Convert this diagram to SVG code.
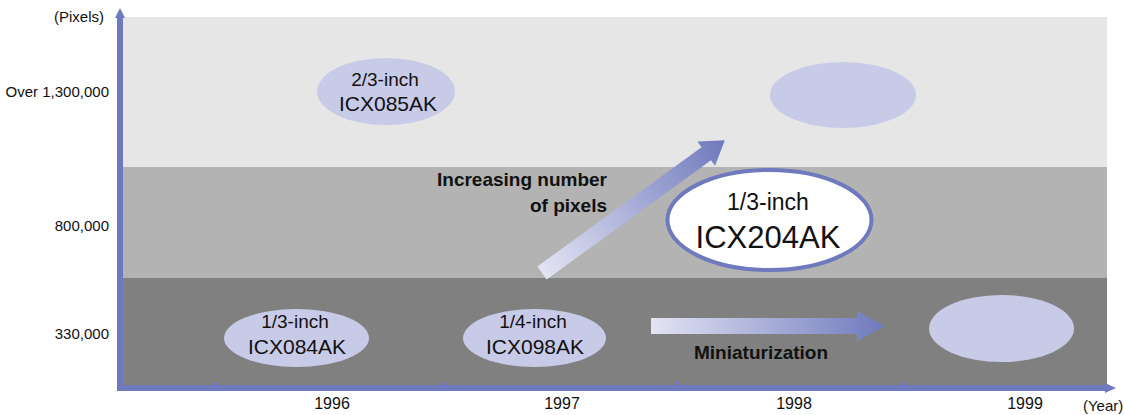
<svg xmlns="http://www.w3.org/2000/svg" width="1124" height="415" viewBox="0 0 1124 415">
  <defs>
    <linearGradient id="gArrow" x1="0" y1="0" x2="1" y2="0">
      <stop offset="0" stop-color="#e2e4f3"/>
      <stop offset="1" stop-color="#6f79bd"/>
    </linearGradient>
    <style>
      text { font-family: "Liberation Sans", Arial, sans-serif; fill: #111; }
      .ax { font-size: 15px; }
      .yr { font-size: 16px; text-anchor: middle; }
      .l1 { font-size: 19px; text-anchor: middle; }
      .l2 { font-size: 21px; text-anchor: middle; }
      .bold { font-size: 19px; font-weight: bold; }
      .chip { fill: #c8cbe8; }
      .axis { fill: #6f79bd; }
    </style>
  </defs>
  <rect width="1124" height="415" fill="#ffffff"/>
  <!-- bands -->
  <g id="bands">
    <rect x="123" y="17" width="984" height="150" fill="#e6e6e6"/>
    <rect x="123" y="167" width="984" height="111" fill="#b3b3b3"/>
    <rect x="123" y="278" width="984" height="107" fill="#808080"/>
  </g>
  <!-- axes -->
  <g id="axes">
    <rect class="axis" x="117" y="17" width="6" height="374"/>
    <polygon class="axis" points="115,18 120,8 125,18"/>
    <rect class="axis" x="117" y="385" width="990" height="6"/>
    <polygon class="axis" points="1105,383 1116,388 1105,393"/>
    <rect class="axis" x="213" y="382" width="4" height="4"/>
    <rect class="axis" x="441" y="382" width="4" height="4"/>
    <rect class="axis" x="675" y="382" width="4" height="4"/>
    <rect class="axis" x="902" y="382" width="4" height="4"/>
    <text class="ax" x="104" y="22" text-anchor="end">(Pixels)</text>
    <text class="ax" x="109" y="97" text-anchor="end">Over 1,300,000</text>
    <text class="ax" x="109" y="231" text-anchor="end">800,000</text>
    <text class="ax" x="109" y="339" text-anchor="end">330,000</text>
    <text class="yr" x="332" y="409">1996</text>
    <text class="yr" x="562" y="409">1997</text>
    <text class="yr" x="794" y="409">1998</text>
    <text class="yr" x="1025" y="409">1999</text>
    <text class="ax" x="1083" y="411">(Year)</text>
  </g>
  <!-- connectors -->
  <g id="connectors">
    <g id="arrow-pixels">
      <path transform="translate(542,273) rotate(-36)" d="M0,-8 L203,-8 L203,-15 L226,0 L203,15 L203,8 L0,8 Z" fill="url(#gArrow)"/>
      <text class="bold" x="607" y="186" text-anchor="end">Increasing number</text>
      <text class="bold" x="607" y="212" text-anchor="end">of pixels</text>
    </g>
    <g id="arrow-mini">
      <path d="M651,318 L857,318 L857,311 L885,326 L857,341 L857,334 L651,334 Z" fill="url(#gArrow)"/>
      <text class="bold" x="694" y="359">Miniaturization</text>
    </g>
  </g>
  <!-- nodes -->
  <g id="node-icx085ak">
    <ellipse class="chip" cx="386" cy="91.5" rx="69" ry="33.5"/>
    <text class="l1" x="385" y="86">2/3-inch</text>
    <text class="l2" x="388" y="111">ICX085AK</text>
  </g>
  <g id="node-future-top">
    <ellipse class="chip" cx="843" cy="95" rx="73" ry="33"/>
  </g>
  <g id="node-icx204ak">
    <ellipse cx="769.5" cy="220" rx="102" ry="50" fill="#ffffff" stroke="#6f79bd" stroke-width="4"/>
    <text x="768" y="210" style="font-size:23px;text-anchor:middle">1/3-inch</text>
    <text x="768" y="248" style="font-size:31px;text-anchor:middle">ICX204AK</text>
  </g>
  <g id="node-icx084ak">
    <ellipse class="chip" cx="296.5" cy="338" rx="72.5" ry="29"/>
    <text class="l1" x="295" y="328">1/3-inch</text>
    <text class="l2" x="297" y="354">ICX084AK</text>
  </g>
  <g id="node-icx098ak">
    <ellipse class="chip" cx="534.5" cy="338" rx="71.5" ry="29"/>
    <text class="l1" x="533" y="328">1/4-inch</text>
    <text class="l2" x="535" y="354">ICX098AK</text>
  </g>
  <g id="node-future-bottom">
    <ellipse class="chip" cx="1001.5" cy="328.5" rx="72.5" ry="33.5"/>
  </g>
</svg>
